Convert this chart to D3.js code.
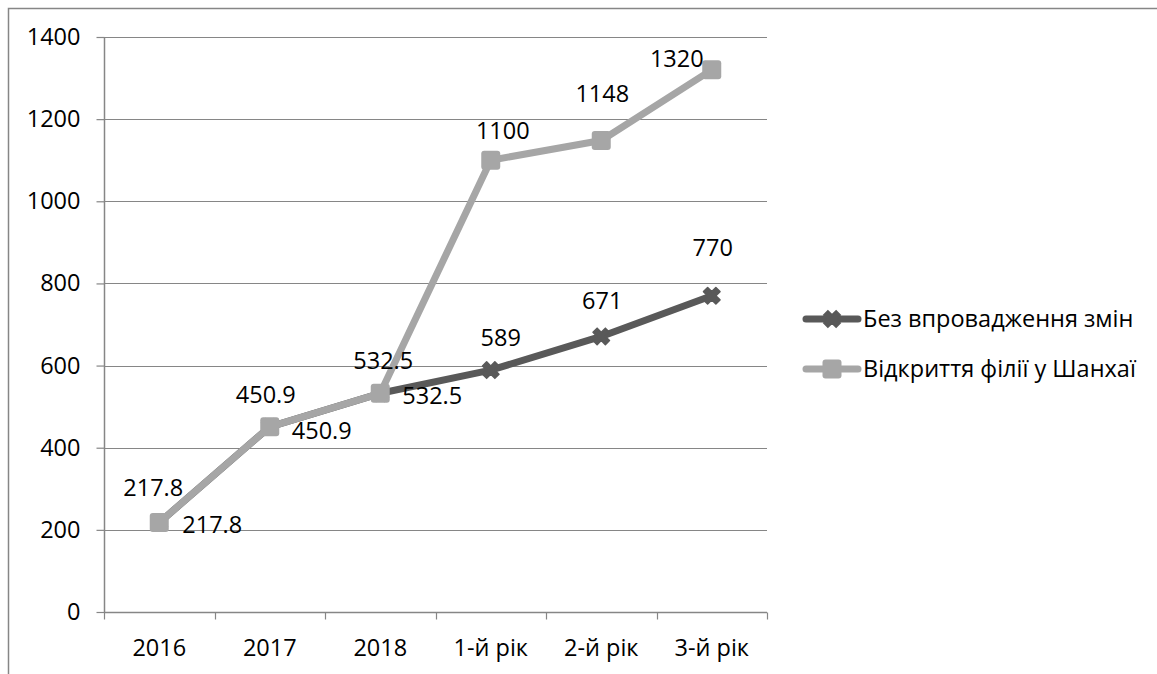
<!DOCTYPE html>
<html>
<head>
<meta charset="utf-8">
<script src="https://cdn.jsdelivr.net/npm/d3@7"></script>
<style>
  html, body { margin: 0; padding: 0; background: #fff; }
  svg { display: block; font-family: "Open Sans", Lato, sans-serif; }
</style>
</head>
<body>
<svg id="chart" width="1157" height="674"></svg>
<script>
// Categories along the x axis
const categories = ["2016", "2017", "2018", "1-й рік", "2-й рік", "3-й рік"];
// Series names
const seriesNames = ["Без впровадження змін", "Відкриття філії у Шанхаї"];
// Series values
const baseline = [217.8, 450.9, 532.5, 589, 671, 770];
const shanghai = [217.8, 450.9, 532.5, 1100, 1148, 1320];
// Y axis ticks
const yTicks = [0, 200, 400, 600, 800, 1000, 1200, 1400];

// Label nudges (dx, dy) in pixels, relative to each point
const baselineLabelNudge = [[53, 2], [52, 4], [52, 2], [10, -32], [1, -36], [1, -48]];
const shanghaiLabelNudge = [[-6, -35], [-4, -32], [3, -33], [12, -29], [1, -47], [-35, -11]];

const FONT = 23.5;
const svg = d3.select("#chart");
const plot = { left: 104, right: 767, top: 37, bottom: 612 };

const x = d3.scaleBand().domain(categories).range([plot.left, plot.right]).padding(0);
const y = d3.scaleLinear().domain([0, 1400]).range([plot.bottom, plot.top]);
const cx = d => x(d) + x.bandwidth() / 2;

const gridColor = "#868686";
const darkColor = "#595959";
const lightColor = "#a6a6a6";

// Outer frame (top and left edges visible)
svg.append("path")
  .attr("d", "M8.5,674 L8.5,8.5 L1157,8.5")
  .attr("fill", "none").attr("stroke", gridColor).attr("stroke-width", 1.5);

// Horizontal gridlines
svg.append("g").selectAll("line").data(yTicks.filter(t => t > 0)).join("line")
  .attr("x1", plot.left).attr("x2", plot.right)
  .attr("y1", d => Math.round(y(d)) + 0.5).attr("y2", d => Math.round(y(d)) + 0.5)
  .attr("stroke", gridColor).attr("stroke-width", 1.2);

// Y axis
const yAxis = svg.append("g")
  .attr("transform", `translate(${plot.left + 0.5},0)`)
  .call(d3.axisLeft(y).tickValues(yTicks).tickSize(8).tickPadding(16).tickFormat(d3.format("d")));
yAxis.select(".domain").attr("stroke", gridColor).attr("stroke-width", 1.5).attr("d", `M0,${plot.top}V${plot.bottom}`);
yAxis.selectAll(".tick line").attr("stroke", gridColor).attr("stroke-width", 1.2);
yAxis.selectAll(".tick text").attr("font-size", FONT).attr("fill", "#000").attr("font-family", "'Open Sans', sans-serif");

// X axis with ticks at category boundaries
const xg = svg.append("g").attr("transform", `translate(0,${Math.round(plot.bottom) + 0.5})`);
xg.append("line").attr("x1", plot.left).attr("x2", plot.right)
  .attr("stroke", gridColor).attr("stroke-width", 1.5);
const boundaries = categories.map(c => x(c)).concat([plot.right]);
xg.selectAll("line.tk").data(boundaries).join("line").attr("class", "tk")
  .attr("x1", d => Math.round(d) + 0.5).attr("x2", d => Math.round(d) + 0.5)
  .attr("y1", 0).attr("y2", 7).attr("stroke", gridColor).attr("stroke-width", 1.2);
xg.selectAll("text").data(categories).join("text")
  .attr("x", d => cx(d)).attr("y", 35).attr("dy", "0.35em")
  .attr("text-anchor", "middle").attr("font-size", FONT).attr("fill", "#000")
  .text(d => d);

const line = d3.line().x((d, i) => cx(categories[i])).y(d => y(d));

// Series lines
svg.append("path").datum(baseline).attr("d", line)
  .attr("fill", "none").attr("stroke", darkColor).attr("stroke-width", 7)
  .attr("stroke-linejoin", "round").attr("stroke-linecap", "round");
svg.append("path").datum(shanghai).attr("d", line)
  .attr("fill", "none").attr("stroke", lightColor).attr("stroke-width", 7)
  .attr("stroke-linejoin", "round").attr("stroke-linecap", "round");

// Markers
const crossSym = d3.symbol().type(d3.symbolCross).size(170);
svg.append("g").selectAll("path").data(baseline).join("path")
  .attr("d", crossSym)
  .attr("transform", (d, i) => `translate(${cx(categories[i])},${y(d)}) rotate(45)`)
  .attr("fill", darkColor).attr("stroke", darkColor).attr("stroke-width", 1.5)
  .attr("stroke-linejoin", "round");
svg.append("g").selectAll("rect").data(shanghai).join("rect")
  .attr("x", (d, i) => cx(categories[i]) - 9.5).attr("y", d => y(d) - 9.5)
  .attr("width", 19).attr("height", 19).attr("rx", 3)
  .attr("fill", lightColor);

// Data labels
function labels(values, nudges) {
  svg.append("g").selectAll("text").data(values).join("text")
    .attr("x", (d, i) => cx(categories[i]) + nudges[i][0])
    .attr("y", (d, i) => y(d) + nudges[i][1])
    .attr("dy", "0.35em")
    .attr("text-anchor", "middle").attr("font-size", FONT).attr("fill", "#000")
    .text(d => d);
}
labels(baseline, baselineLabelNudge);
labels(shanghai, shanghaiLabelNudge);

// Legend
const legend = svg.append("g");
const legendRows = [
  { name: seriesNames[0], color: darkColor, marker: "cross", y: 319 },
  { name: seriesNames[1], color: lightColor, marker: "square", y: 369 }
];
legendRows.forEach(r => {
  legend.append("line").attr("x1", 806).attr("x2", 858).attr("y1", r.y).attr("y2", r.y)
    .attr("stroke", r.color).attr("stroke-width", 7).attr("stroke-linecap", "round");
  if (r.marker === "cross") {
    legend.append("path").attr("d", crossSym)
      .attr("transform", `translate(832,${r.y}) rotate(45)`)
      .attr("fill", r.color).attr("stroke", r.color).attr("stroke-width", 1.5);
  } else {
    legend.append("rect").attr("x", 822.5).attr("y", r.y - 9.5).attr("width", 19).attr("height", 19)
      .attr("rx", 3).attr("fill", r.color);
  }
  legend.append("text").attr("x", 863).attr("y", r.y).attr("dy", "0.35em")
    .attr("font-size", FONT).attr("fill", "#000").text(r.name);
});
</script>
</body>
</html>
